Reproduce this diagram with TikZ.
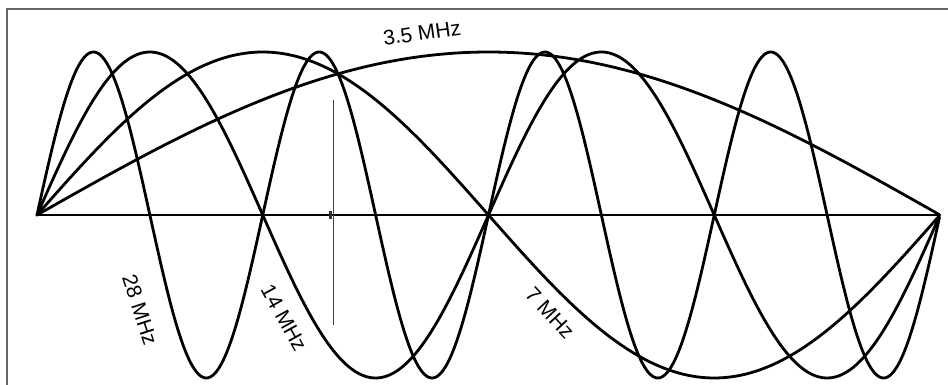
\documentclass[tikz,border=0pt]{standalone}
\usepackage{fontspec}
\setmainfont{Liberation Sans}
\begin{document}
\begin{tikzpicture}[x=1pt,y=1pt,
  wave/.style={line width=2.8pt,black,line join=round,line cap=round},
  lbl/.style={font=\fontsize{21}{21}\selectfont,inner sep=0pt}]
\useasboundingbox (0,0) rectangle (948,-385);
\fill[white] (0,0) rectangle (948,-385);
% frame
\draw[line width=1.5pt,black!60] (7,-400) -- (7,-9) -- (960,-9);
% axis
\coordinate (L) at (37,-215);
\coordinate (R) at (940,-215);
\draw[wave,line width=2.5pt] (L) -- (R);
% waves
\draw[wave] plot[domain=0:1,samples=200] ({37+903*\x},{-215+163*sin(\x*180)});
\draw[wave] plot[domain=0:1,samples=250] ({37+903*\x},{-215+163*sin(\x*360)});
\draw[wave] plot[domain=0:1,samples=350] ({37+903*\x},{-215+163*sin(\x*720)});
\draw[wave] plot[domain=0:1,samples=500] ({37+903*\x},{-215+163*sin(\x*1440)});
% marker line and tick
\coordinate (vt) at (333,-100);
\coordinate (vb) at (333,-325);
\draw[line width=1pt,black!75] (vt) -- (vb);
\fill[black!80] (329,-211) rectangle (332,-219);
% labels
\node[lbl,rotate=8] (l35) at (422,-33) {3.5 MHz};
\node[lbl,rotate=-72] (l28) at (140,-310) {28 MHz};
\node[lbl,rotate=-61] (l14) at (284,-318) {14 MHz};
\node[lbl,rotate=-47] (l7) at (550,-313) {7 MHz};
\end{tikzpicture}
\end{document}
